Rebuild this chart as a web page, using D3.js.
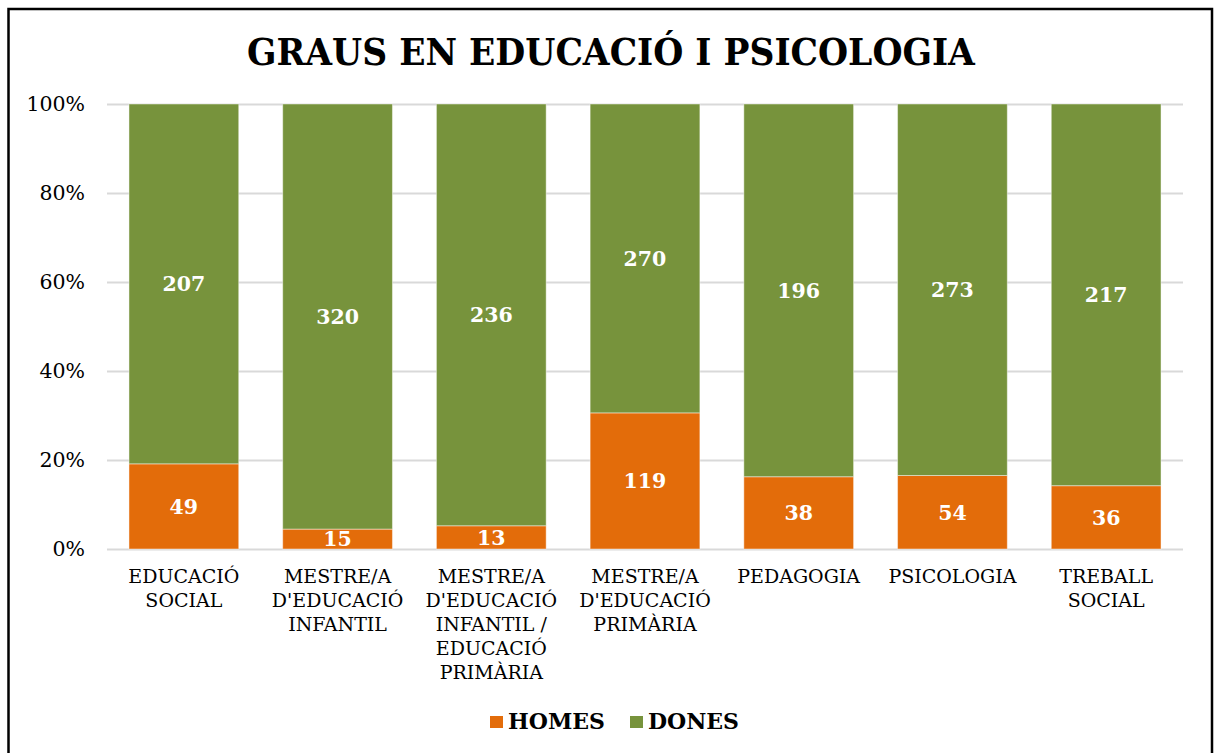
<!DOCTYPE html>
<html>
<head>
<meta charset="utf-8">
<script src="https://cdn.jsdelivr.net/npm/d3@7"></script>
<style>
  html, body { margin: 0; padding: 0; background: #fff; }
  svg { display: block; }
  text { font-family: "DejaVu Serif", "Liberation Serif", serif; }
</style>
</head>
<body>
<svg id="chart" width="1218" height="753"></svg>
<script>
// Graduates by degree, split by sex
const categories = [
  "EDUCACIÓ SOCIAL",
  "MESTRE/A D'EDUCACIÓ INFANTIL",
  "MESTRE/A D'EDUCACIÓ INFANTIL / EDUCACIÓ PRIMÀRIA",
  "MESTRE/A D'EDUCACIÓ PRIMÀRIA",
  "PEDAGOGIA",
  "PSICOLOGIA",
  "TREBALL SOCIAL"
];
const homes = [49, 15, 13, 119, 38, 54, 36];
const dones = [207, 320, 236, 270, 196, 273, 217];
const seriesNames = ["HOMES", "DONES"];
const yTicks = [0, 0.2, 0.4, 0.6, 0.8, 1.0];
const titleText = "GRAUS EN EDUCACIÓ I PSICOLOGIA";

const colors = { HOMES: "#E36C0A", DONES: "#77933C" };

const svg = d3.select("#chart");
const W = 1218, H = 753;
const plot = { left: 107, right: 1183, top: 104, bottom: 549 };

// frame
svg.append("path")
  .attr("d", `M8.5,${H} V9 H1212 V${H}`)
  .attr("fill", "none")
  .attr("stroke", "#000")
  .attr("stroke-width", 2.5);

// title: tall bold serif, squeezed horizontally to its slot
const titleCx = 611, titleW = 728;
const title = svg.append("text")
  .attr("x", 0).attr("y", 0)
  .attr("text-anchor", "middle")
  .attr("font-weight", "bold")
  .attr("font-size", 38)
  .attr("fill", "#000")
  .text(titleText);
const tw = title.node().getComputedTextLength();
title.attr("transform", `translate(${titleCx},65) scale(${titleW / tw},1)`);

const rows = categories.map((c, i) => ({ cat: c, HOMES: homes[i], DONES: dones[i] }));
const stack = d3.stack().keys(seriesNames).offset(d3.stackOffsetExpand);
const layers = stack(rows);

const x = d3.scaleBand().domain(categories)
  .range([plot.left, plot.right])
  .paddingInner(0.286).paddingOuter(0.143);
const y = d3.scaleLinear().domain([0, 1]).range([plot.bottom, plot.top]);

// gridlines + y axis labels
const yAxis = d3.axisLeft(y).tickValues(yTicks)
  .tickFormat(d3.format(".0%"))
  .tickSize(-(plot.right - plot.left)).tickPadding(22);
const gy = svg.append("g").attr("transform", `translate(${plot.left},0)`).call(yAxis);
gy.select(".domain").remove();
gy.selectAll(".tick line").attr("stroke", "#d9d9d9").attr("stroke-width", 2);
gy.selectAll(".tick text")
  .attr("font-size", 20.5).attr("fill", "#000")
  .attr("font-family", "DejaVu Serif, serif");

// bars
const gBars = svg.append("g");
layers.forEach(layer => {
  const key = layer.key;
  gBars.append("g").selectAll("rect")
    .data(layer)
    .join("rect")
    .attr("x", d => x(d.data.cat))
    .attr("width", x.bandwidth())
    .attr("y", d => y(d[1]))
    .attr("height", d => y(d[0]) - y(d[1]))
    .attr("fill", colors[key])
    .attr("stroke", "#ffffff")
    .attr("stroke-opacity", 0.45)
    .attr("stroke-width", 1);
});

// value labels
layers.forEach(layer => {
  const key = layer.key;
  svg.append("g").selectAll("text")
    .data(layer)
    .join("text")
    .attr("x", d => x(d.data.cat) + x.bandwidth() / 2)
    .attr("y", d => (y(d[0]) + y(d[1])) / 2)
    .attr("dy", "0.36em")
    .attr("text-anchor", "middle")
    .attr("font-weight", "bold")
    .attr("font-size", 20.5)
    .attr("fill", "#fff")
    .text(d => d.data[key]);
});

// category labels with word wrapping
const gx = svg.append("g");
categories.forEach(cat => {
  const t = gx.append("text")
    .attr("text-anchor", "middle")
    .attr("font-size", 19)
    .attr("fill", "#000");
  const cx = x(cat) + x.bandwidth() / 2;
  const words = cat.split(" ");
  let lines = [], cur = [];
  const probe = t.append("tspan");
  words.forEach(w => {
    const test = cur.concat([w]).join(" ");
    probe.text(test);
    if (cur.length && probe.node().getComputedTextLength() > 148) {
      lines.push(cur.join(" "));
      cur = [w];
    } else {
      cur.push(w);
    }
  });
  if (cur.length) lines.push(cur.join(" "));
  probe.remove();
  lines.forEach((ln, i) => {
    t.append("tspan").attr("x", cx).attr("y", 583 + i * 24).text(ln);
  });
});

// legend
const legend = svg.append("g");
const legendItems = [
  { key: "HOMES", sx: 490, tx: 508 },
  { key: "DONES", sx: 630, tx: 648 }
];
legendItems.forEach(it => {
  legend.append("rect")
    .attr("x", it.sx).attr("y", 716)
    .attr("width", 13).attr("height", 12)
    .attr("fill", colors[it.key]);
  legend.append("text")
    .attr("x", it.tx).attr("y", 729)
    .attr("font-weight", "bold")
    .attr("font-size", 22)
    .attr("fill", "#000")
    .text(it.key);
});
</script>
</body>
</html>
